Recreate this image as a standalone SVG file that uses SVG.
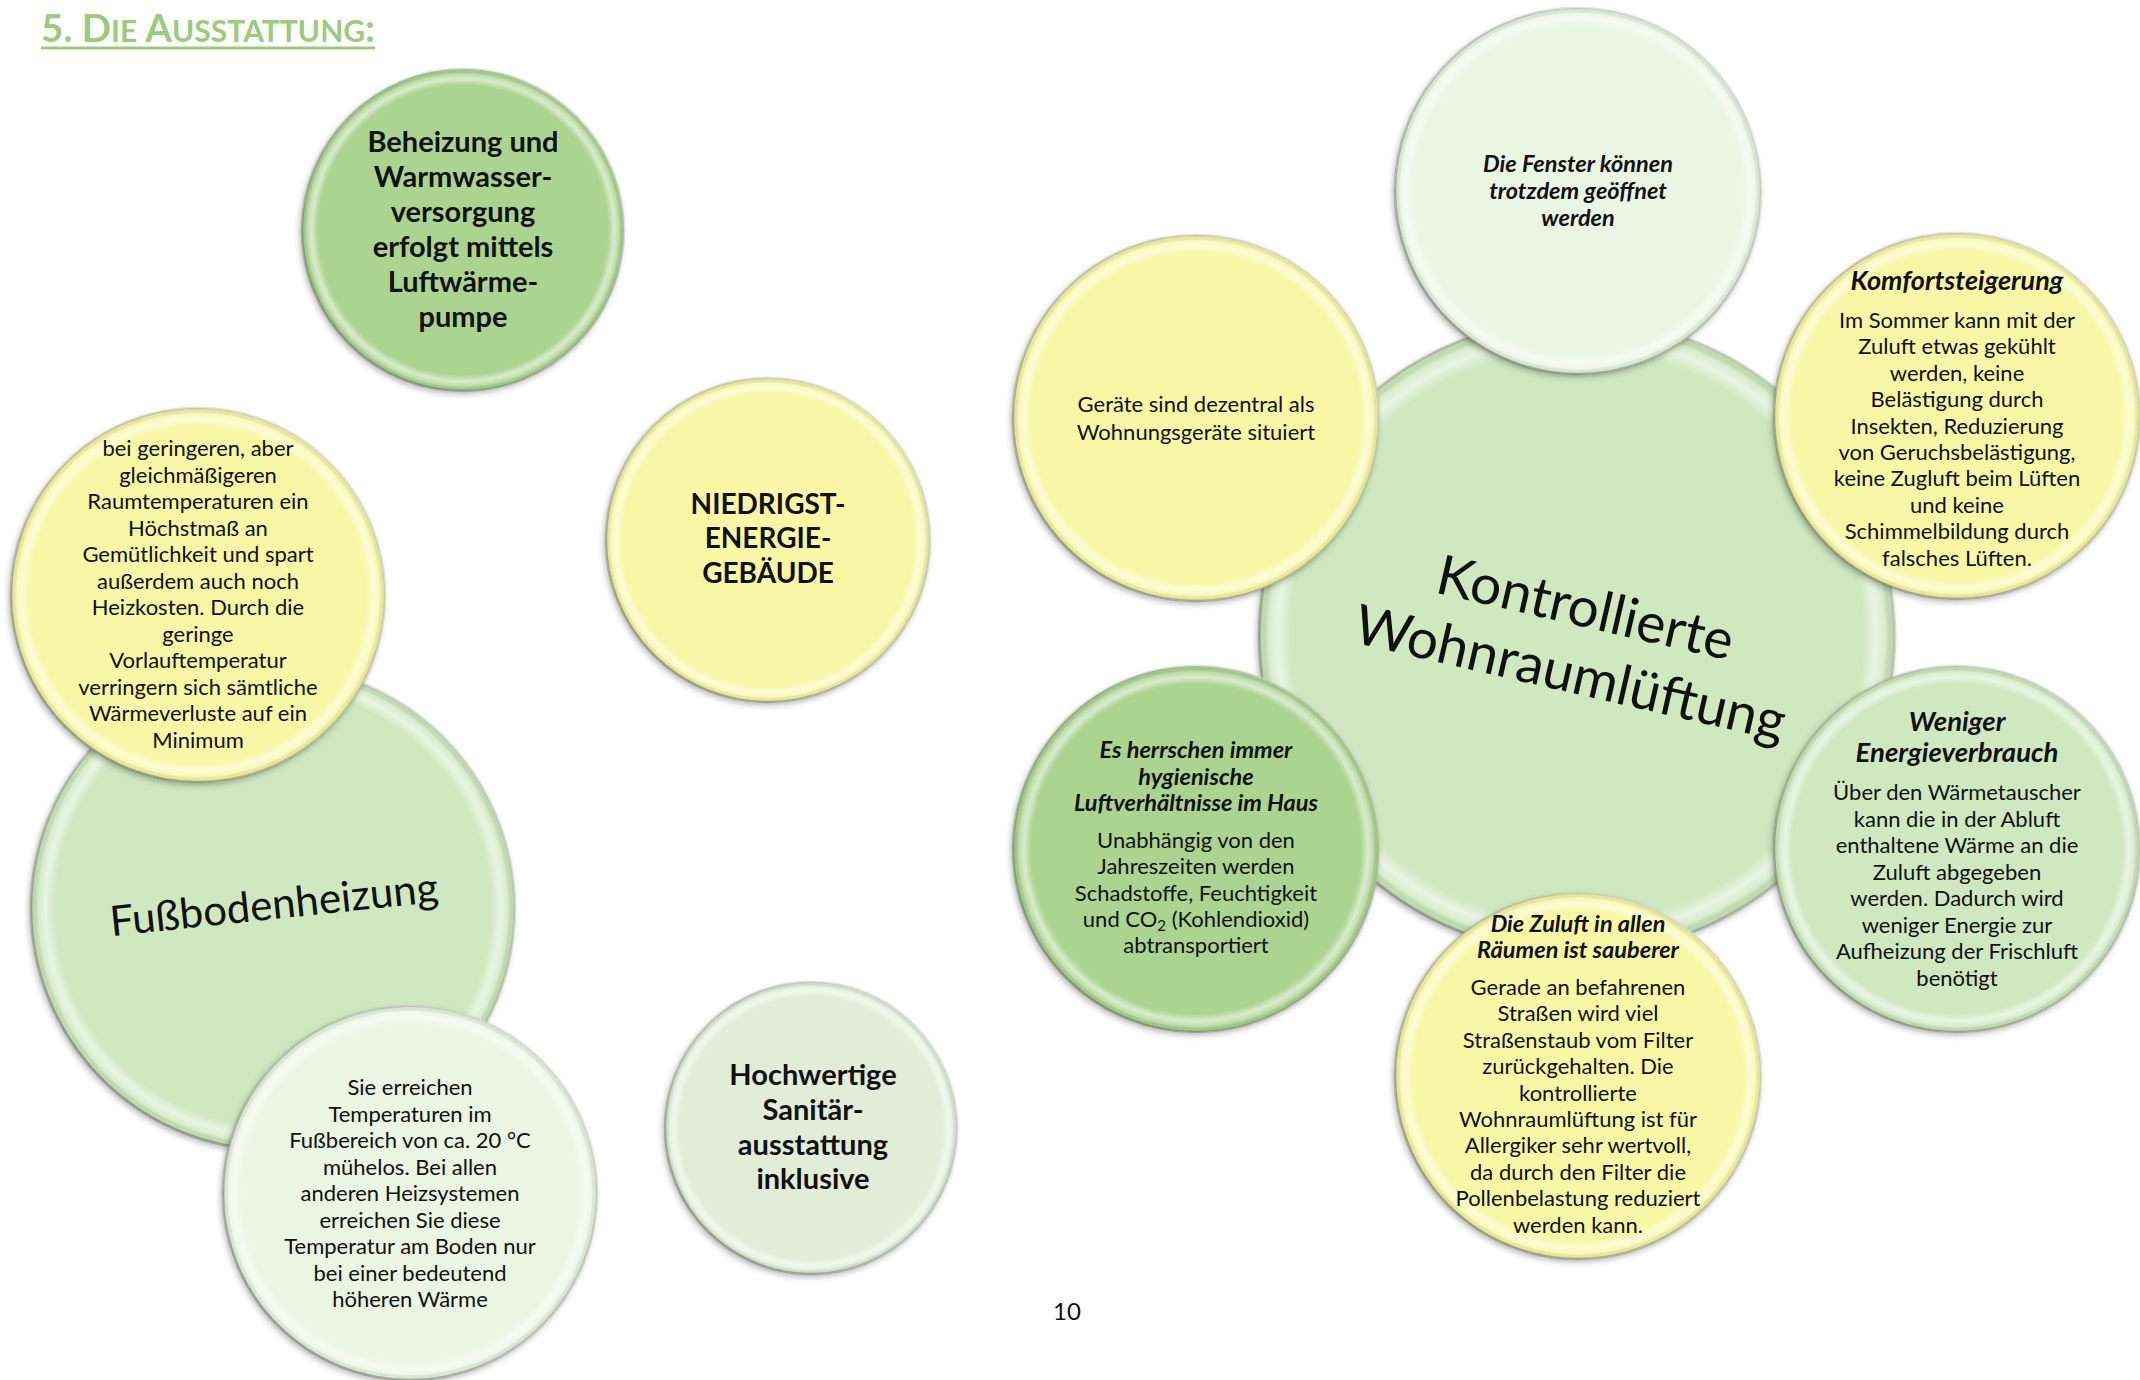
<svg xmlns="http://www.w3.org/2000/svg" width="2140" height="1380" viewBox="0 0 2140 1380">
<defs>
<filter id="sh" x="-10%" y="-10%" width="120%" height="120%">
<feDropShadow dx="-2" dy="3" stdDeviation="3" flood-color="#000" flood-opacity="0.3"/>
</filter>
<radialGradient id="bevel" cx="0.5" cy="0.5" r="0.5">
<stop offset="0" stop-color="#fff" stop-opacity="0"/>
<stop offset="0.9" stop-color="#fff" stop-opacity="0"/>
<stop offset="0.94" stop-color="#fff" stop-opacity="0.55"/>
<stop offset="0.97" stop-color="#fff" stop-opacity="0.2"/>
<stop offset="0.99" stop-color="#000" stop-opacity="0.06"/>
<stop offset="1" stop-color="#000" stop-opacity="0.22"/>
</radialGradient>
<linearGradient id="rim" x1="0" y1="1" x2="1" y2="0">
<stop offset="0" stop-color="#4d5a40" stop-opacity="0.55"/>
<stop offset="0.5" stop-color="#8a9480" stop-opacity="0.25"/>
<stop offset="1" stop-color="#ffffff" stop-opacity="0.7"/>
</linearGradient>
</defs>
<style>
.b{filter:url(#sh)}
.y{fill:#F8F7A6}
.g1{fill:#ABD490}
.g2{fill:#CFE8C0}
.g3{fill:#EAF5E3}
.g4{fill:#E1EDD9}
.bv{fill:url(#bevel)}
.rm{fill:none;stroke:url(#rim);stroke-width:2.5}
text{font-family:Lato,"Open Sans","Liberation Sans",sans-serif;fill:#111;text-anchor:middle}
.t{font-size:22px}
.ti{font-size:23.5px;font-weight:bold;font-style:italic}
.bd{font-size:29px;font-weight:bold}
</style>
<rect width="2140" height="1380" fill="#fff"/>

<g id="title">
<text x="41" y="42" style="text-anchor:start;fill:#9CCB7E;font-weight:bold;font-size:38.5px">5. D<tspan font-size="30">IE</tspan> A<tspan font-size="30">USSTATTUNG</tspan>:</text>
<line x1="41" y1="48" x2="375" y2="48" stroke="#9CCB7E" stroke-width="3"/>
</g>

<g id="connectors"/>

<g id="fussbodenheizung">
<circle class="b g2" cx="273" cy="908" r="242"/><circle class="bv" cx="273" cy="908" r="242"/><circle class="rm" cx="273" cy="908" r="242"/>
<text transform="translate(274,905) rotate(-6)" x="0" y="14" style="font-size:42px">Fußbodenheizung</text>
</g>

<g id="kontrollierte-wohnraumlueftung">
<circle class="b g2" cx="1577" cy="636" r="318"/><circle class="bv" cx="1577" cy="636" r="318"/><circle class="rm" cx="1577" cy="636" r="318"/>
<text transform="translate(1578,640) rotate(13)" style="font-size:55px"><tspan x="0" y="-14">Kontrollierte</tspan><tspan x="0" y="53">Wohnraumlüftung</tspan></text>
</g>

<g id="beheizung">
<circle class="b g1" cx="463" cy="230" r="161"/><circle class="bv" cx="463" cy="230" r="161"/><circle class="rm" cx="463" cy="230" r="161"/>
<text class="bd"><tspan x="463" y="152">Beheizung und</tspan><tspan x="463" y="187">Warmwasser-</tspan><tspan x="463" y="222">versorgung</tspan><tspan x="463" y="257">erfolgt mittels</tspan><tspan x="463" y="292">Luftwärme-</tspan><tspan x="463" y="327">pumpe</tspan></text>
</g>

<g id="raumtemperaturen">
<circle class="b y" cx="198" cy="595" r="187"/><circle class="bv" cx="198" cy="595" r="187"/><circle class="rm" cx="198" cy="595" r="187"/>
<text class="t"><tspan x="198" y="456">bei geringeren, aber</tspan><tspan x="198" y="482.5">gleichmäßigeren</tspan><tspan x="198" y="509">Raumtemperaturen ein</tspan><tspan x="198" y="535.5">Höchstmaß an</tspan><tspan x="198" y="562">Gemütlichkeit und spart</tspan><tspan x="198" y="588.5">außerdem auch noch</tspan><tspan x="198" y="615">Heizkosten. Durch die</tspan><tspan x="198" y="641.5">geringe</tspan><tspan x="198" y="668">Vorlauftemperatur</tspan><tspan x="198" y="694.5">verringern sich sämtliche</tspan><tspan x="198" y="721">Wärmeverluste auf ein</tspan><tspan x="198" y="747.5">Minimum</tspan></text>
</g>

<g id="fussbereich">
<circle class="b g3" cx="410" cy="1193" r="187"/><circle class="bv" cx="410" cy="1193" r="187"/><circle class="rm" cx="410" cy="1193" r="187"/>
<text class="t"><tspan x="410" y="1095">Sie erreichen</tspan><tspan x="410" y="1121.5">Temperaturen im</tspan><tspan x="410" y="1148">Fußbereich von ca. 20 °C</tspan><tspan x="410" y="1174.5">mühelos. Bei allen</tspan><tspan x="410" y="1201">anderen Heizsystemen</tspan><tspan x="410" y="1227.5">erreichen Sie diese</tspan><tspan x="410" y="1254">Temperatur am Boden nur</tspan><tspan x="410" y="1280.5">bei einer bedeutend</tspan><tspan x="410" y="1307">höheren Wärme</tspan></text>
</g>

<g id="niedrigstenergie">
<circle class="b y" cx="768" cy="540" r="162"/><circle class="bv" cx="768" cy="540" r="162"/><circle class="rm" cx="768" cy="540" r="162"/>
<text class="bd" style="font-size:28px"><tspan x="768" y="514">NIEDRIGST-</tspan><tspan x="768" y="548">ENERGIE-</tspan><tspan x="768" y="583">GEBÄUDE</tspan></text>
</g>

<g id="sanitaer">
<circle class="b g4" cx="811" cy="1128" r="146"/><circle class="bv" cx="811" cy="1128" r="146"/><circle class="rm" cx="811" cy="1128" r="146"/>
<text class="bd"><tspan x="813" y="1085">Hochwertige</tspan><tspan x="813" y="1120">Sanitär-</tspan><tspan x="813" y="1155">ausstattung</tspan><tspan x="813" y="1189">inklusive</tspan></text>
</g>

<g id="geraete">
<circle class="b y" cx="1196" cy="418" r="183"/><circle class="bv" cx="1196" cy="418" r="183"/><circle class="rm" cx="1196" cy="418" r="183"/>
<text class="t"><tspan x="1196" y="412">Geräte sind dezentral als</tspan><tspan x="1196" y="440">Wohnungsgeräte situiert</tspan></text>
</g>

<g id="fenster">
<circle class="b g3" cx="1578" cy="191" r="183"/><circle class="bv" cx="1578" cy="191" r="183"/><circle class="rm" cx="1578" cy="191" r="183"/>
<text class="ti"><tspan x="1578" y="172">Die Fenster können</tspan><tspan x="1578" y="199">trotzdem geöffnet</tspan><tspan x="1578" y="226">werden</tspan></text>
</g>

<g id="komfort">
<circle class="b y" cx="1957" cy="416" r="183"/><circle class="bv" cx="1957" cy="416" r="183"/><circle class="rm" cx="1957" cy="416" r="183"/>
<text class="ti" style="font-size:27px" x="1957" y="290">Komfortsteigerung</text>
<text class="t"><tspan x="1957" y="328">Im Sommer kann mit der</tspan><tspan x="1957" y="354.4">Zuluft etwas gekühlt</tspan><tspan x="1957" y="380.8">werden, keine</tspan><tspan x="1957" y="407.2">Belästigung durch</tspan><tspan x="1957" y="433.6">Insekten, Reduzierung</tspan><tspan x="1957" y="460">von Geruchsbelästigung,</tspan><tspan x="1957" y="486.4">keine Zugluft beim Lüften</tspan><tspan x="1957" y="512.8">und keine</tspan><tspan x="1957" y="539.2">Schimmelbildung durch</tspan><tspan x="1957" y="565.6">falsches Lüften.</tspan></text>
</g>

<g id="hygiene">
<circle class="b g1" cx="1196" cy="849" r="183"/><circle class="bv" cx="1196" cy="849" r="183"/><circle class="rm" cx="1196" cy="849" r="183"/>
<text class="ti"><tspan x="1196" y="758">Es herrschen immer</tspan><tspan x="1196" y="785">hygienische</tspan><tspan x="1196" y="811">Luftverhältnisse im Haus</tspan></text>
<text class="t"><tspan x="1196" y="848">Unabhängig von den</tspan><tspan x="1196" y="874.3">Jahreszeiten werden</tspan><tspan x="1196" y="900.6">Schadstoffe, Feuchtigkeit</tspan><tspan x="1196" y="926.9">und CO<tspan font-size="15" dy="4">2</tspan><tspan dy="-4"> (Kohlendioxid)</tspan></tspan><tspan x="1196" y="953.2">abtransportiert</tspan></text>
</g>

<g id="energie">
<circle class="b g2" cx="1957" cy="849" r="183"/><circle class="bv" cx="1957" cy="849" r="183"/><circle class="rm" cx="1957" cy="849" r="183"/>
<text class="ti" style="font-size:27.5px"><tspan x="1957" y="731">Weniger</tspan><tspan x="1957" y="762">Energieverbrauch</tspan></text>
<text class="t"><tspan x="1957" y="800">Über den Wärmetauscher</tspan><tspan x="1957" y="826.5">kann die in der Abluft</tspan><tspan x="1957" y="853">enthaltene Wärme an die</tspan><tspan x="1957" y="879.5">Zuluft abgegeben</tspan><tspan x="1957" y="906">werden. Dadurch wird</tspan><tspan x="1957" y="932.5">weniger Energie zur</tspan><tspan x="1957" y="959">Aufheizung der Frischluft</tspan><tspan x="1957" y="985.5">benötigt</tspan></text>
</g>

<g id="zuluft">
<circle class="b y" cx="1578" cy="1076" r="183"/><circle class="bv" cx="1578" cy="1076" r="183"/><circle class="rm" cx="1578" cy="1076" r="183"/>
<text class="ti"><tspan x="1578" y="932">Die Zuluft in allen</tspan><tspan x="1578" y="958">Räumen ist sauberer</tspan></text>
<text class="t"><tspan x="1578" y="995">Gerade an befahrenen</tspan><tspan x="1578" y="1021.4">Straßen wird viel</tspan><tspan x="1578" y="1047.8">Straßenstaub vom Filter</tspan><tspan x="1578" y="1074.2">zurückgehalten. Die</tspan><tspan x="1578" y="1100.6">kontrollierte</tspan><tspan x="1578" y="1127">Wohnraumlüftung ist für</tspan><tspan x="1578" y="1153.4">Allergiker sehr wertvoll,</tspan><tspan x="1578" y="1179.8">da durch den Filter die</tspan><tspan x="1578" y="1206.2">Pollenbelastung reduziert</tspan><tspan x="1578" y="1232.6">werden kann.</tspan></text>
</g>

<g id="page-number">
<text x="1067" y="1320" style="font-size:24px">10</text>
</g>
</svg>
